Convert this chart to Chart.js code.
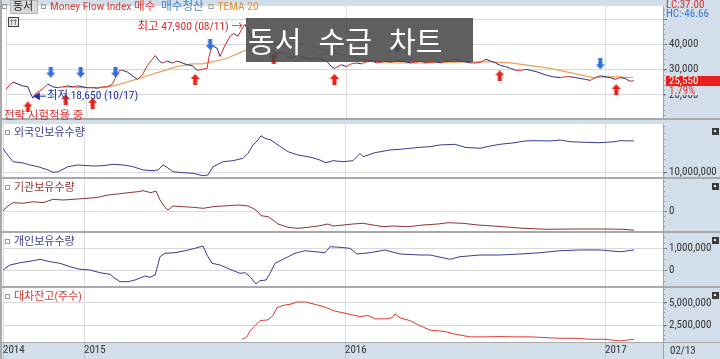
<!DOCTYPE html>
<html lang="ko">
<head>
<meta charset="UTF-8">
<title>동서 수급 차트</title>
<script src="https://cdn.jsdelivr.net/npm/chart.js"></script>
<style>
    body {
        margin: 0;
        width: 720px;
        height: 359px;
        overflow: hidden;
        position: relative;
        background: #d3deeb;
        font-family: 'Noto Sans CJK KR', sans-serif;
    }
    .panel { position: absolute; left: 0; }
    canvas { display: block; }
    #title {
        position: absolute;
        left: 246px;
        top: 18px;
        width: 227px;
        height: 44px;
        box-sizing: border-box;
        padding-left: 2px;
        background: rgba(74, 74, 74, 0.88);
        color: #fff;
        font-size: 29px;
        line-height: 44px;
        word-spacing: 9px;
        white-space: nowrap;
    }
</style>
</head>
<body>
<div class="panel" style="top:0"><canvas id="c1" width="720" height="124"></canvas></div>
<div class="panel" style="top:124px"><canvas id="c2" width="720" height="55"></canvas></div>
<div class="panel" style="top:179px"><canvas id="c3" width="720" height="54"></canvas></div>
<div class="panel" style="top:233px"><canvas id="c4" width="720" height="55"></canvas></div>
<div class="panel" style="top:288px"><canvas id="c5" width="720" height="71"></canvas></div>
<div id="title">동서 수급 차트</div>

<script>
const FONT = "'Roboto Condensed', 'Noto Sans CJK KR', sans-serif";
const AXIS_SIZE = 11;
const TEXT_SIZE = 11.5;

// x axis = trading day index (0 = left edge of the chart, early Sep 2014)
const X_MAX = 660;
const yearTicks = [0, 81, 342, 602];
const yearLabels = ['2014', '2015', '2016', '2017'];
const lastDate = '02/13';

// price (close)
const priceDays = [
    0, 4, 7, 12, 17, 22, 25, 27, 30, 34,
    37, 42, 47, 52, 57, 62, 67, 72, 77, 82,
    87, 92, 97, 102, 107, 110, 114, 117, 122, 127,
    132, 137, 142, 147, 150, 154, 157, 162, 167, 172,
    177, 182, 187, 192, 197, 202, 204, 207, 212, 215,
    219, 225, 229, 233, 237, 240, 245, 247, 252, 257,
    262, 267, 272, 277, 282, 287, 294, 300, 307, 315,
    322, 327, 330, 337, 342, 347, 352, 357, 362, 367,
    372, 377, 382, 387, 392, 397, 402, 407, 412, 417,
    422, 427, 432, 437, 442, 447, 452, 457, 462, 467,
    472, 477, 482, 487, 492, 497, 502, 507, 512, 517,
    522, 527, 534, 542, 549, 557, 562, 567, 572, 577,
    582, 587, 592, 597, 602, 607, 612, 617, 622, 627,
    631
];
const priceClose = [
    22200, 24000, 25000, 24250, 23500, 23150, 20250, 18650, 20600, 21500,
    22450, 24250, 23150, 22800, 23150, 23500, 23150, 23500, 23150, 22800,
    22800, 22600, 23150, 23150, 24250, 26800, 29700, 29700, 29000, 27550,
    26100, 27900, 31550, 34050, 35500, 33350, 32600, 33350, 32600, 33350,
    32600, 31900, 31550, 29700, 30050, 30450, 35150, 39500, 38450, 35150,
    38800, 43150, 44250, 43150, 46050, 47900, 44250, 42400, 40600, 41350,
    38800, 37700, 36200, 36950, 35150, 34450, 35900, 34450, 34050, 34450,
    33350, 31150, 30450, 31900, 31150, 32250, 32600, 32250, 33000, 33700,
    32600, 32950, 33350, 32950, 33700, 33350, 33000, 32600, 33000, 33350,
    32600, 32950, 33000, 32600, 33350, 33700, 34050, 33350, 33000, 32600,
    32600, 32950, 34050, 33350, 32600, 31550, 31150, 30450, 29700, 29700,
    30050, 29700, 29000, 27900, 27150, 26800, 27150, 27150, 26800, 26450,
    26100, 25700, 26800, 27550, 27150, 26800, 26100, 26800, 26450, 25350,
    25550
];
const priceChange = '1.79%';
const peakDate = '08/11';
const lowDate = '10/17';

// TEMA 20
const temaDays = [57, 77, 97, 112, 127, 142, 157, 172, 187, 197, 207, 222, 237, 247,
    267, 294, 327, 347, 367, 390, 417, 467, 487, 507, 547, 590, 610, 630];
const temaValues = [23150, 22800, 22800, 23900, 25700, 27550, 29350, 31150, 32250, 32250, 33000, 34450, 37000, 38800,
    40250, 40600, 36950, 34800, 33350, 32600, 32600, 33000, 33000, 32600, 30450, 26800, 27150, 26800];

// Money Flow Index signals (arrow position in price units)
const buyDays = [22, 60, 87, 190, 269, 330, 496, 613];
const buyLevels = [15160, 18070, 16620, 26070, 34430, 26070, 27530, 22070];
const sellDays = [45, 75, 110, 205, 393, 597];
const sellLevels = [28980, 28980, 28980, 39890, 38800, 32250];
const lcText = 'LC:37.00';
const hcText = 'HC:-46.66';

// 외국인보유수량
const foreignDays = [0, 3, 10, 20, 27, 35, 45, 50, 55, 65,
    75, 90, 100, 110, 120, 130, 140, 150, 155, 160,
    163, 170, 180, 190, 200, 205, 210, 220, 230, 240,
    245, 250, 255, 258, 262, 268, 275, 285, 295, 305,
    315, 323, 330, 340, 350, 354, 357, 360, 372, 387,
    397, 407, 417, 427, 437, 452, 462, 477, 487, 497,
    512, 522, 532, 547, 557, 567, 582, 597, 612, 617,
    631];
const foreignQty = [13660000, 12960000, 11650000, 11460000, 11160000, 10900000, 10410000, 10060000, 10150000, 10900000,
    11160000, 11000000, 11050000, 11260000, 11160000, 10900000, 10410000, 10300000, 10410000, 11160000,
    10900000, 10150000, 10000000, 9910000, 9550000, 9660000, 10900000, 11650000, 11800000, 12160000,
    12910000, 14160000, 14900000, 15550000, 15160000, 14900000, 14160000, 13150000, 12660000, 12400000,
    12010000, 11500000, 11800000, 11650000, 11800000, 12400000, 12910000, 12400000, 13000000, 13410000,
    13510000, 13660000, 13810000, 13900000, 14160000, 14260000, 13810000, 13660000, 14000000, 14260000,
    14500000, 14760000, 14800000, 14760000, 14900000, 14650000, 14560000, 14500000, 14650000, 14800000,
    14760000];

// 기관보유수량
const instDays = [0, 5, 10, 20, 30, 40, 50, 60, 70, 85,
    95, 105, 115, 125, 135, 140, 148, 153, 157, 162,
    165, 170, 180, 190, 200, 210, 220, 235, 245, 250,
    255, 258, 265, 270, 275, 285, 295, 305, 315, 325,
    330, 340, 350, 360, 370, 380, 390, 405, 420, 435,
    445, 460, 475, 500, 520, 545, 570, 600, 620, 631];
const instQty = [15000, 250000, 415000, 385000, 465000, 415000, 585000, 550000, 585000, 635000,
    685000, 800000, 850000, 915000, 965000, 1015000, 915000, 1000000, 550000, 185000,
    50000, 250000, 215000, 185000, 135000, 215000, 250000, 300000, 250000, 135000,
    -35000, -235000, -285000, -450000, -650000, -815000, -865000, -815000, -750000, -650000,
    -750000, -700000, -650000, -615000, -700000, -785000, -750000, -785000, -700000, -650000,
    -585000, -615000, -700000, -785000, -865000, -915000, -900000, -900000, -915000, -960000];

// 개인보유수량
const indivDays = [0, 2, 7, 17, 24, 30, 37, 47, 57, 67,
    77, 87, 97, 107, 112, 117, 125, 132, 142, 147,
    152, 154, 157, 162, 172, 182, 192, 200, 204, 209,
    217, 227, 237, 242, 247, 253, 257, 263, 267, 272,
    282, 292, 302, 312, 322, 327, 337, 347, 354, 367,
    382, 397, 417, 427, 447, 457, 477, 497, 517, 537,
    557, 577, 597, 617, 631];
const indivQty = [-32000, 78000, 230000, 336000, 382000, 429000, 493000, 382000, 309000, 152000,
    32000, 0, -124000, -198000, -382000, -539000, -539000, -461000, -276000, -336000,
    -230000, 78000, 613000, 770000, 797000, 889000, 1000000, 1106000, 691000, 309000,
    230000, 32000, -152000, -124000, -309000, -645000, -493000, -461000, -152000, 309000,
    539000, 770000, 889000, 843000, 797000, 1074000, 1046000, 1000000, 737000, 797000,
    922000, 737000, 691000, 691000, 493000, 613000, 691000, 691000, 737000, 797000,
    889000, 922000, 922000, 843000, 922000];

// 대차잔고(주수)
const lendDays = [239, 244, 247, 252, 257, 265, 270, 274, 280, 287,
    294, 302, 312, 322, 332, 342, 352, 357, 365, 372,
    382, 389, 392, 397, 407, 417, 427, 442, 452, 467,
    482, 497, 512, 527, 542, 557, 572, 587, 602, 617,
    631];
const lendQty = [1009000, 1267000, 1940000, 2500000, 3060000, 3140000, 3620000, 4480000, 4740000, 4850000,
    5110000, 5110000, 4850000, 4550000, 4100000, 3880000, 3620000, 3510000, 3620000, 3250000,
    3250000, 3360000, 3810000, 3360000, 3060000, 2500000, 2020000, 1860000, 1570000, 1270000,
    1270000, 1300000, 1270000, 1270000, 1190000, 1120000, 1120000, 1010000, 1010000, 820000,
    1010000];

const pts = (xs, ys) => xs.map((x, i) => ({ x: x, y: ys[i] }));
const fmt = v => v.toLocaleString('en-US');

function makeArrow(color, up) {
    const c = document.createElement('canvas');
    c.width = 9;
    c.height = 11;
    const g = c.getContext('2d');
    g.fillStyle = color;
    g.beginPath();
    if (up) {
        g.moveTo(4.5, 0); g.lineTo(9, 5); g.lineTo(6.5, 5); g.lineTo(6.5, 11);
        g.lineTo(2.5, 11); g.lineTo(2.5, 5); g.lineTo(0, 5);
    } else {
        g.moveTo(4.5, 11); g.lineTo(9, 6); g.lineTo(6.5, 6); g.lineTo(6.5, 0);
        g.lineTo(2.5, 0); g.lineTo(2.5, 6); g.lineTo(0, 6);
    }
    g.closePath();
    g.fill();
    return c;
}

// background, frame, panel title, minor ticks
const decoPlugin = {
    id: 'deco',
    beforeDraw(chart) {
        const { ctx, chartArea: a, width, height } = chart;
        ctx.save();
        ctx.fillStyle = '#d3deeb';
        ctx.fillRect(0, 0, width, height);
        ctx.fillStyle = '#fff';
        ctx.fillRect(0, a.top, a.right, a.bottom - a.top);
        ctx.restore();
    },
    afterDraw(chart, args, o) {
        const { ctx, chartArea: a, width, height } = chart;
        const ys = chart.scales.y;
        ctx.save();
        // minor ticks on the value axis
        ctx.strokeStyle = '#8d99a8';
        ctx.lineWidth = 1;
        ctx.beginPath();
        for (let v = Math.ceil(ys.min / o.minor) * o.minor; v <= ys.max; v += o.minor) {
            const y = Math.round(ys.getPixelForValue(v)) + 0.5;
            ctx.moveTo(a.right, y);
            ctx.lineTo(a.right + 2, y);
        }
        ctx.stroke();
        // frame
        ctx.fillStyle = '#a9a9a9';
        ctx.fillRect(0, 0, 2, height);
        ctx.fillRect(0, a.bottom, width, o.last ? 1 : 2);
        if (o.label) {
            ctx.strokeStyle = '#9a9a9a';
            ctx.strokeRect(5.5, a.top + 6.5, 4, 4);
            ctx.font = '11px ' + FONT;
            ctx.fillStyle = o.color;
            ctx.textBaseline = 'middle';
            ctx.fillText(o.label, 14, a.top + 9);
            ctx.fillStyle = '#3c3c3c';
            ctx.fillRect(712, a.top + 4, 7, 7);
            ctx.fillStyle = '#fff';
            ctx.fillRect(714, a.top + 6, 2, 2);
        }
        if (o.last) {
            ctx.fillStyle = '#9ba7b6';
            ctx.fillRect(a.right, a.bottom, 1, height - a.bottom);
            ctx.font = AXIS_SIZE + 'px ' + FONT;
            ctx.fillStyle = '#333';
            ctx.textBaseline = 'middle';
            ctx.fillText(lastDate, 670, (a.bottom + height) / 2 + 1);
        }
        ctx.restore();
    }
};

// legend, annotations and last price of the price panel
const pricePlugin = {
    id: 'priceDeco',
    afterDraw(chart) {
        const { ctx } = chart;
        const xs = chart.scales.x, ys = chart.scales.y;
        ctx.save();
        ctx.textBaseline = 'middle';

        // legend row
        ctx.strokeStyle = '#9a9a9a';
        ctx.strokeRect(2.5, 4.5, 4, 4);
        ctx.fillStyle = '#d9d9d9';
        ctx.fillRect(10, 0, 28, 14);
        ctx.strokeStyle = '#b5b5b5';
        ctx.strokeRect(10.5, 0.5, 27, 13);
        ctx.font = '11px ' + FONT;
        ctx.fillStyle = '#222';
        ctx.fillText('동서', 13, 7);
        ctx.strokeStyle = '#9a9a9a';
        ctx.strokeRect(41.5, 4.5, 4, 4);
        ctx.font = TEXT_SIZE + 'px ' + FONT;
        let x = 50;
        ctx.fillStyle = '#d9403a';
        ctx.fillText('Money Flow Index 매수', x, 7);
        x += ctx.measureText('Money Flow Index 매수').width + 6;
        ctx.fillStyle = '#3f7fcf';
        ctx.fillText('매수청산', x, 7);
        x += ctx.measureText('매수청산').width + 5;
        ctx.strokeStyle = '#9a9a9a';
        ctx.strokeRect(x + 0.5, 4.5, 4, 4);
        ctx.fillStyle = '#e0903a';
        ctx.fillText('TEMA 20', x + 9, 7);

        // small grid icon
        ctx.fillStyle = '#e6e6e6';
        ctx.fillRect(8, 17, 11, 10);
        ctx.strokeStyle = '#444';
        ctx.strokeRect(8.5, 17.5, 10, 9);
        ctx.strokeStyle = '#888';
        ctx.beginPath();
        ctx.moveTo(10, 20.5); ctx.lineTo(17, 20.5);
        ctx.moveTo(11.5, 19); ctx.lineTo(11.5, 25);
        ctx.moveTo(15.5, 19); ctx.lineTo(15.5, 25);
        ctx.stroke();

        // highest / lowest
        const hi = Math.max(...priceClose), lo = Math.min(...priceClose);
        const hx = xs.getPixelForValue(priceDays[priceClose.indexOf(hi)]);
        const hy = ys.getPixelForValue(hi);
        ctx.font = TEXT_SIZE + 'px ' + FONT;
        ctx.fillStyle = '#d42b2b';
        ctx.textAlign = 'right';
        ctx.fillText('최고 ' + fmt(hi) + ' (' + peakDate + ') →', hx - 2, hy + 3);
        ctx.textAlign = 'left';
        const lx = xs.getPixelForValue(priceDays[priceClose.indexOf(lo)]);
        const ly = ys.getPixelForValue(lo) - 2;
        ctx.fillStyle = '#2233aa';
        ctx.beginPath();
        ctx.moveTo(lx, ly); ctx.lineTo(lx + 7, ly - 4); ctx.lineTo(lx + 7, ly + 4);
        ctx.closePath();
        ctx.fill();
        ctx.fillRect(lx + 7, ly - 0.5, 6, 1);
        ctx.fillText('최저 ' + fmt(lo) + ' (' + lowDate + ')', lx + 14, ly);
        ctx.fillStyle = '#e03030';
        ctx.fillText('전략 시험적용 중', 4, 116);

        // LC / HC
        ctx.font = AXIS_SIZE + 'px ' + FONT;
        ctx.fillStyle = '#d03030';
        ctx.fillText(lcText, 666, 5);
        ctx.fillStyle = '#3a78c8';
        ctx.fillText(hcText, 666, 14);

        // last price box
        const last = priceClose[priceClose.length - 1];
        const py = Math.round(ys.getPixelForValue(last));
        ctx.fillStyle = '#e8201c';
        ctx.fillRect(666, py - 5, 54, 10);
        ctx.fillStyle = '#fff';
        ctx.fillText(fmt(last), 669, py + 0.5);
        ctx.fillStyle = '#d3deeb';
        ctx.fillRect(666, py + 5, 40, 9);
        ctx.fillStyle = '#d8362e';
        ctx.fillText(priceChange, 669, py + 10);
        ctx.restore();
    }
};

function noPad(s) {
    s.paddingTop = 0;
    s.paddingBottom = 0;
    s.paddingLeft = 0;
    s.paddingRight = 0;
}

function makePanel(id, cfg) {
    return new Chart(document.getElementById(id), {
        type: 'line',
        data: { datasets: cfg.datasets },
        options: {
            responsive: false,
            animation: false,
            events: [],
            layout: { padding: { left: 3, right: 0, top: 0, bottom: cfg.last ? 0 : 2 } },
            elements: { point: { radius: 0 }, line: { borderWidth: 1, tension: 0 } },
            plugins: {
                legend: { display: false },
                tooltip: { enabled: false },
                deco: { label: cfg.label, color: cfg.color, minor: cfg.minor, last: !!cfg.last }
            },
            scales: {
                x: {
                    type: 'linear',
                    min: 0,
                    max: X_MAX,
                    afterBuildTicks: s => { s.ticks = yearTicks.map(v => ({ value: v })); },
                    afterFit: s => { s.height = cfg.last ? 17 : 0; noPad(s); },
                    border: { display: false },
                    grid: { color: '#dcdcdc', drawTicks: !!cfg.last, tickLength: 17, tickColor: '#b9c3d0' },
                    ticks: {
                        display: !!cfg.last,
                        align: 'start',
                        padding: -15,
                        maxRotation: 0,
                        autoSkip: false,
                        color: '#333',
                        font: { family: FONT, size: AXIS_SIZE },
                        callback: (v, i) => yearLabels[i]
                    }
                },
                y: {
                    position: 'right',
                    min: cfg.min,
                    max: cfg.max,
                    afterBuildTicks: s => { s.ticks = cfg.ticks.map(v => ({ value: v })); },
                    afterFit: s => { s.width = 57; noPad(s); },
                    border: { display: true, color: '#9ba7b6' },
                    grid: { color: '#d9d9d9', tickLength: 4, tickColor: '#6b7685' },
                    ticks: {
                        padding: 2,
                        color: '#333',
                        font: { family: FONT, size: AXIS_SIZE },
                        callback: v => (cfg.hide || []).includes(v) ? '' : fmt(v)
                    }
                }
            }
        },
        plugins: cfg.extra ? [decoPlugin, cfg.extra] : [decoPlugin]
    });
}

makePanel('c1', {
    min: 10800, max: 55160, ticks: [20000, 30000, 40000, 50000], hide: [50000], minor: 2000,
    extra: pricePlugin,
    datasets: [
        { data: pts(buyDays, buyLevels), showLine: false, pointRadius: 5, pointStyle: makeArrow('#e8231a', true) },
        { data: pts(sellDays, sellLevels), showLine: false, pointRadius: 5, pointStyle: makeArrow('#2f6fdc', false) },
        {
            data: pts(priceDays, priceClose),
            borderColor: '#1f2f7a',
            segment: { borderColor: c => c.p1.parsed.y >= c.p0.parsed.y ? '#d8282a' : '#1f2f7a' }
        },
        { data: pts(temaDays, temaValues), borderColor: '#eda15a', borderWidth: 1.2 }
    ]
});

makePanel('c2', {
    min: 9355000, max: 17305000, ticks: [10000000], minor: 1000000,
    label: '외국인보유수량', color: '#3b3b96',
    datasets: [{ data: pts(foreignDays, foreignQty), borderColor: '#3b3b96' }]
});

makePanel('c3', {
    min: -1000000, max: 1600000, ticks: [0], minor: 250000,
    label: '기관보유수량', color: '#8e3535',
    datasets: [{ data: pts(instDays, instQty), borderColor: '#8e3535' }]
});

makePanel('c4', {
    min: -737000, max: 1705000, ticks: [0, 1000000], minor: 250000,
    label: '개인보유수량', color: '#3b3b96',
    datasets: [{ data: pts(indivDays, indivQty), borderColor: '#3b3b96' }]
});

makePanel('c5', {
    min: 706000, max: 6648000, ticks: [2500000, 5000000], minor: 500000,
    label: '대차잔고(주수)', color: '#d63a2e', last: true,
    datasets: [{ data: pts(lendDays, lendQty), borderColor: '#e03a2e' }]
});
</script>
</body>
</html>
